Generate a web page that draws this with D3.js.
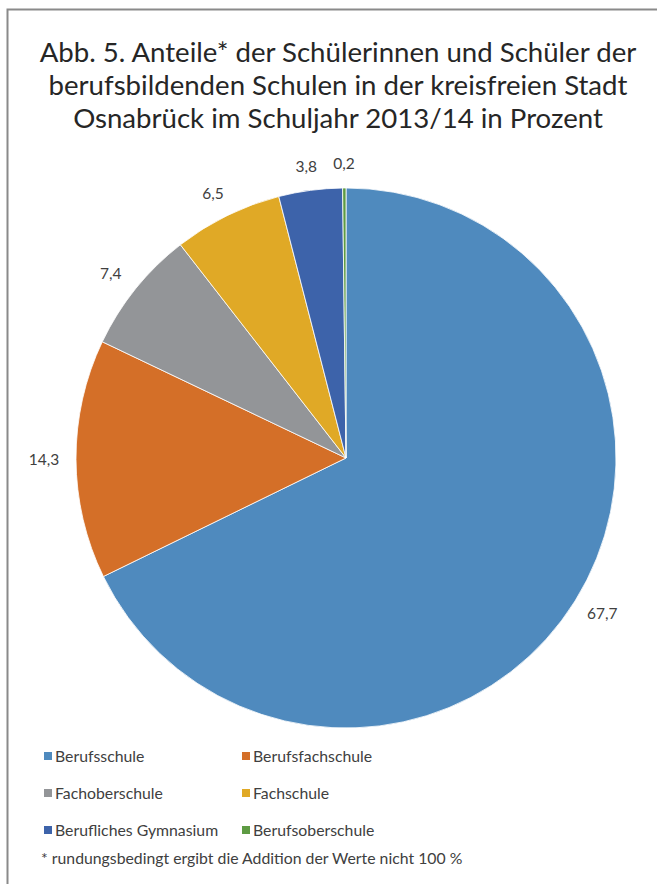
<!DOCTYPE html>
<html>
<head>
<meta charset="utf-8">
<script src="https://cdn.jsdelivr.net/npm/d3@7"></script>
<style>
  html, body { margin: 0; padding: 0; background: #fff; }
  svg { display: block; font-family: Lato, "Open Sans", sans-serif; }
</style>
</head>
<body>
<script>
// Schularten und Anteile in Prozent
var categories = ["Berufsschule", "Berufsfachschule", "Fachoberschule", "Fachschule", "Berufliches Gymnasium", "Berufsoberschule"];
var values = [67.7, 14.3, 7.4, 6.5, 3.8, 0.2];
var colors = ["#4f8abe", "#d46f28", "#939598", "#e0a926", "#3d63aa", "#5e9b43"];
var titleLines = [
    "Abb. 5. Anteile* der Schülerinnen und Schüler der",
    "berufsbildenden Schulen in der kreisfreien Stadt",
    "Osnabrück im Schuljahr 2013/14 in Prozent"
];
var footnote = "* rundungsbedingt ergibt die Addition der Werte nicht 100 %";

var width = 657,
    height = 884,
    cx = 346,
    cy = 458,
    radius = 270;

var data = categories.map((c, i) => ({ name: c, value: values[i] }));

var svg = d3.select(document.body).append("svg")
    .attr("width", width)
    .attr("height", height);

// frame
svg.append("rect")
    .attr("x", 7.5)
    .attr("y", 9.5)
    .attr("width", 720)
    .attr("height", 920)
    .attr("fill", "none")
    .attr("stroke", "#8a8a8a")
    .attr("stroke-width", 2);

// title
svg.append("g")
    .attr("font-size", 27.6)
    .attr("fill", "#262626")
    .attr("text-anchor", "middle")
    .selectAll("text")
    .data(titleLines)
    .join("text")
    .attr("x", 338)
    .attr("y", (d, i) => 62 + i * 33)
    .text((d) => d);

var color = d3.scaleOrdinal().domain(categories).range(colors);

var pie = d3.pie()
    .sort(null)
    .value((d) => d.value);

var arc = d3.arc()
    .innerRadius(0)
    .outerRadius(radius);

var arcs = pie(data);

var g = svg.append("g")
    .attr("transform", "translate(" + cx + "," + cy + ")");

g.selectAll("path")
    .data(arcs)
    .join("path")
    .attr("fill", (d) => color(d.data.name))
    .attr("stroke", "#fff")
    .attr("stroke-width", 0.8)
    .attr("d", arc);

// value labels outside the pie, box pushed outward
var labelR = 287,
    lw = 30,
    lh = 14;
g.append("g")
    .attr("font-size", 15.5)
    .attr("fill", "#404040")
    .attr("text-anchor", "middle")
    .selectAll("text")
    .data(arcs)
    .join("text")
    .attr("x", (d) => {
        var a = (d.startAngle + d.endAngle) / 2;
        return Math.sin(a) * labelR + Math.sin(a) * lw / 2;
    })
    .attr("y", (d) => {
        var a = (d.startAngle + d.endAngle) / 2;
        return -Math.cos(a) * labelR - Math.cos(a) * lh / 2;
    })
    .attr("dy", "0.35em")
    .text((d) => d3.format(".1f")(d.data.value).replace(".", ","));

// legend
var legend = svg.append("g")
    .attr("font-size", 15.8)
    .attr("fill", "#404040")
    .selectAll("g")
    .data(data)
    .join("g")
    .attr("transform", (d, i) => "translate(" + (44 + (i % 2) * 198) + "," + (756 + Math.floor(i / 2) * 37) + ")");

legend.append("rect")
    .attr("x", 0)
    .attr("y", -4)
    .attr("width", 8)
    .attr("height", 8)
    .attr("fill", (d) => color(d.name));

legend.append("text")
    .attr("x", 11)
    .attr("dy", "0.35em")
    .text((d) => d.name);

svg.append("text")
    .attr("x", 41)
    .attr("y", 858)
    .attr("dy", "0.35em")
    .attr("font-size", 15.8)
    .attr("fill", "#404040")
    .text(footnote);
</script>
</body>
</html>
